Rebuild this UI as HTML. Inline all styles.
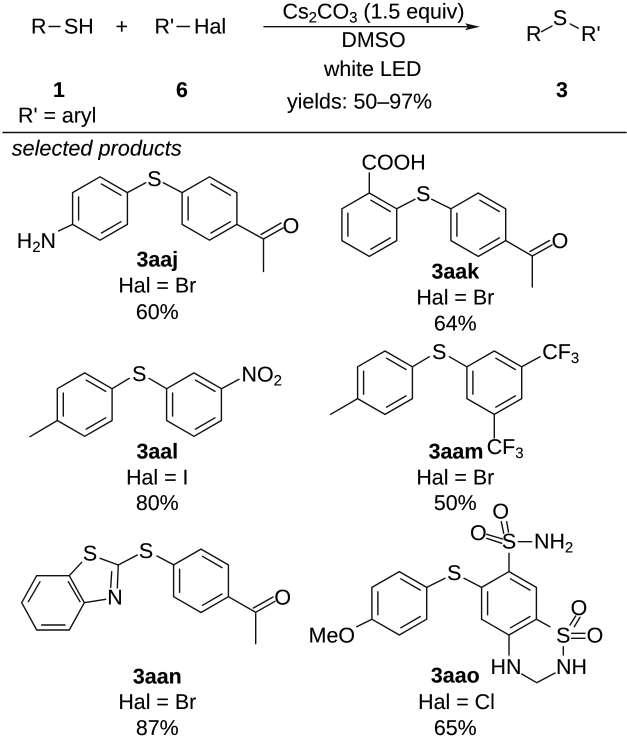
<!DOCTYPE html>
<html>
<head>
<meta charset="utf-8">
<style>
html,body{margin:0;padding:0;background:#fff;width:627px;height:739px;overflow:hidden}
svg{display:block}
text{font-family:"Liberation Sans",sans-serif;font-size:21.4px;fill:#000;stroke:#000;stroke-width:.12;text-rendering:geometricPrecision}
.m{text-anchor:middle}
.e{text-anchor:end}
.b{font-weight:bold}
.s{font-size:15px}
path,line,polyline{fill:none;stroke:#111;stroke-width:1.4;stroke-linecap:round;stroke-linejoin:round}
</style>
</head>
<body>
<svg width="627" height="739" viewBox="0 0 627 739" xmlns="http://www.w3.org/2000/svg">
<defs>
<g id="r">
<path d="M0,-31.7L27.4,-15.9V15.9L0,31.7L-27.4,15.9V-15.9Z"/>
<path d="M-21.4,-11.5V11.5M1.5,-24.5L21,-13.2M1.5,24.5L21,13.2"/>
</g>
</defs>

<!-- header -->
<text x="31" y="33.5">R</text>
<path d="M49,26.5H60"/>
<text x="64" y="33.5">SH</text>
<text x="121.7" y="33.5" class="m">+</text>
<text x="154.5" y="33.5">R'</text>
<path d="M177,26.5H189.5"/>
<text x="194" y="33.5">Hal</text>

<text x="373.5" y="18.5" class="m">Cs<tspan class="s" dy="4">2</tspan><tspan dy="-4">CO</tspan><tspan class="s" dy="4">3</tspan><tspan dy="-4"> (1.5 equiv)</tspan></text>
<path d="M264,26.7H468"/>
<polygon points="480,26.7 465,23.2 468,26.7 465,30.2" fill="#111"/>
<text x="373.5" y="47" class="m">DMSO</text>
<text x="372.7" y="76" class="m">white LED</text>
<text x="359.5" y="108.5" class="m">yields: 50–97%</text>

<text x="526" y="41">R</text>
<path d="M541.4,31.7L552,26M570.3,24L578.3,28.3"/>
<text x="560" y="25" class="m">S</text>
<text x="581" y="41">R'</text>

<text x="59" y="97" class="m b">1</text>
<text x="182" y="97" class="m b">6</text>
<text x="562" y="97" class="m b">3</text>
<text x="18" y="122.5">R' = aryl</text>

<line x1="3" y1="132.5" x2="626" y2="132.5" style="stroke-width:1.5"/>
<text x="11.7" y="155.7" font-style="italic" style="font-size:21.7px">selected products</text>

<!-- 3aaj -->
<use href="#r" x="100" y="208.5"/>
<use href="#r" x="209.5" y="208.5"/>
<text x="154.4" y="186" class="m">S</text>
<path d="M127.4,192.6L145.7,182.7M163.3,182.7L182.1,192.6"/>
<path d="M72.6,224.4L58.5,231"/>
<text x="56" y="248" class="e">H<tspan class="s" dy="4">2</tspan><tspan dy="-4">N</tspan></text>
<path d="M236.9,224.4L263.5,239V271.5M263.5,239L283,228M261,234.5L281,223"/>
<text x="291" y="233" class="m">O</text>
<text x="157.3" y="266.7" class="m b">3aaj</text>
<text x="157.3" y="292.7" class="m">Hal = Br</text>
<text x="157.3" y="319" class="m">60%</text>

<!-- 3aak -->
<use href="#r" x="369.3" y="224.7"/>
<use href="#r" x="478.3" y="224.7"/>
<text x="423.3" y="201" class="m">S</text>
<text x="361.5" y="169.3">COOH</text>
<path d="M369.3,193V173M396.7,208.8L415,199.3M431.7,199.3L450.9,208.8"/>
<path d="M505.7,240.6L532.3,256V287M532.3,256L552,245M530,251.5L549.5,240.5"/>
<text x="560" y="248" class="m">O</text>
<text x="455.3" y="278.3" class="m b">3aak</text>
<text x="455.3" y="304.7" class="m">Hal = Br</text>
<text x="455.3" y="330.7" class="m">64%</text>

<!-- 3aal -->
<use href="#r" x="84.7" y="404.6"/>
<use href="#r" x="194" y="404.6"/>
<text x="139.3" y="381" class="m">S</text>
<path d="M57.3,420.5L30,436.7M112.1,388.7L129.3,378.3M149,378.3L166.6,388.7M221.4,388.7L239,379.3"/>
<text x="241.5" y="381.7">NO<tspan class="s" dy="4">2</tspan></text>
<text x="157.3" y="458.7" class="m b">3aal</text>
<text x="157.3" y="484.3" class="m">Hal = I</text>
<text x="157.3" y="510" class="m">80%</text>

<!-- 3aam -->
<use href="#r" x="385" y="382.7"/>
<use href="#r" x="494.3" y="382.7"/>
<text x="439.3" y="359" class="m">S</text>
<path d="M357.6,398.6L330.7,414.3M412.4,366.8L429.3,356.7M449.3,356.7L466.9,366.8M521.7,366.8L540,356.7M494.3,414.4V438"/>
<text x="542.3" y="359">CF<tspan class="s" dy="4">3</tspan></text>
<text x="486.7" y="454">CF<tspan class="s" dy="4">3</tspan></text>
<text x="456" y="458.7" class="m b">3aam</text>
<text x="455.3" y="484.3" class="m">Hal = Br</text>
<text x="455.3" y="510" class="m">50%</text>

<!-- 3aan -->
<path d="M21.7,602.7L36.7,575.7H69.3L84.3,602.7L69.3,630H36.7Z"/>
<path d="M28.3,601.7L40,581.7M68.3,581.7L80,601.7M41.7,625H65"/>
<path d="M69.3,575.7L81.7,562.3M100,558.3L118.3,565L117.3,588M111.7,571.7L110.7,587.3M105.7,599.3L84.3,602.7"/>
<text x="90" y="560.7" class="m">S</text>
<text x="115" y="604.7" class="m">N</text>
<path d="M118.3,565L137.3,555M157,556L174,565"/>
<text x="146" y="558" class="m">S</text>
<use href="#r" x="201" y="580.8"/>
<path d="M228.4,596.7L255.7,612.3V643.7M255.7,612.3L275,601.3M253.4,608L273,597"/>
<text x="282.7" y="604.3" class="m">O</text>
<text x="157.3" y="683.3" class="m b">3aan</text>
<text x="157.3" y="709" class="m">Hal = Br</text>
<text x="157.3" y="735" class="m">87%</text>

<!-- 3aao -->
<use href="#r" x="399.3" y="603.3"/>
<use href="#r" x="509" y="603.3"/>
<text x="355" y="642.7" class="e">MeO</text>
<text x="454.3" y="580" class="m">S</text>
<path d="M372,619.2L356.7,626.7M426.7,587.4L445,578.3M464,578.3L481.6,587.4"/>
<path d="M509,571.6V553.3"/>
<text x="509" y="548.3" class="m">S</text>
<text x="500.7" y="518.3" class="m">O</text>
<text x="478.3" y="540" class="m">O</text>
<path d="M501.3,521.7L503.7,533.3M506.7,521.7L508.5,532M486.7,534.3L502.7,539M486.7,538.3L501.7,543.3"/>
<path d="M518.3,541.7H531.7"/>
<text x="534" y="548.3">NH<tspan class="s" dy="4">2</tspan></text>
<path d="M536.4,619.2L550,626.7"/>
<text x="563.3" y="642.7" class="m">S</text>
<text x="579" y="615" class="m">O</text>
<text x="595" y="642.7" class="m">O</text>
<path d="M570,625L575.7,616M574.3,626.7L580,617.3M571.7,633.3H585M571.7,638.3H585"/>
<path d="M563.3,646.7V655"/>
<text x="556" y="674">NH</text>
<text x="490.5" y="674">HN</text>
<path d="M509,635V655M521.7,674L536.7,682.7L555,673"/>
<text x="455.3" y="682.7" class="m b">3aao</text>
<text x="456.5" y="709" class="m">Hal = Cl</text>
<text x="455.3" y="735" class="m">65%</text>
</svg>
</body>
</html>
